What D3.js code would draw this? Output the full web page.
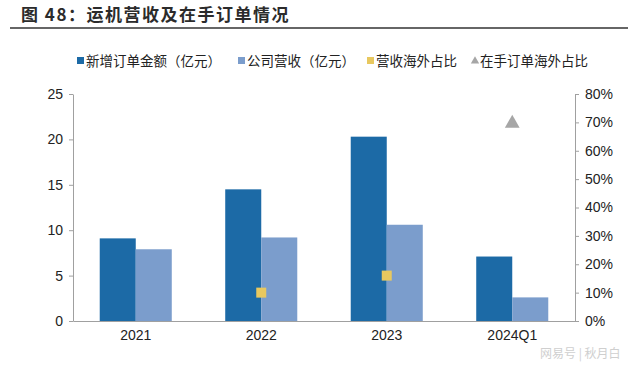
<!DOCTYPE html>
<html>
<head>
<meta charset="utf-8">
<script src="https://cdn.jsdelivr.net/npm/d3@7"></script>
<style>
  body { margin: 0; background: #fff; }
  svg text { font-family: "Liberation Sans", Arial, sans-serif; }
  .cjk { font-family: "Noto Sans CJK SC", sans-serif; }
</style>
</head>
<body>
<div id="viz"></div>
<script>
const width = 640;
const height = 372;
const margin = {top: 94, right: 65, bottom: 51, left: 73};

const categories = ['2021', '2022', '2023', '2024Q1'];
const newOrders = [9.1, 14.5, 20.3, 7.1];
const revenue = [7.9, 9.2, 10.6, 2.6];
const revenueOverseas = [null, 0.10, 0.16, null];
const backlogOverseas = [null, null, null, 0.70];
const leftTicks = [0, 5, 10, 15, 20, 25];
const rightTicks = [0, 0.1, 0.2, 0.3, 0.4, 0.5, 0.6, 0.7, 0.8];
const legendNames = ['新增订单金额（亿元）', '公司营收（亿元）', '营收海外占比', '在手订单海外占比'];

const darkBlue = '#1c6aa6';
const lightBlue = '#7b9dcc';
const yellow = '#e8c85f';
const grey = '#a6a6a6';
const axisColor = '#a0a0a0';

const svg = d3.select('#viz')
  .append('svg')
    .attr('width', width)
    .attr('height', height)

// title
svg.append('text')
  .attr('class', 'cjk')
  .attr('x', 21)
  .attr('y', 21)
  .attr('font-size', 17)
  .attr('font-weight', 'bold')
  .attr('letter-spacing', 1.5)
  .attr('fill', '#2b2b2b')
  .text('图 48：运机营收及在手订单情况')

svg.append('line')
  .attr('x1', 10).attr('x2', 628)
  .attr('y1', 28).attr('y2', 28)
  .attr('stroke', '#333')
  .attr('stroke-width', 1.5)

let xScale = d3.scaleBand()
  .domain(categories)
  .range([margin.left, width - margin.right])
  .paddingInner(0.426)
  .paddingOuter(0.213)

let inner = d3.scaleBand()
  .domain(['orders', 'revenue'])
  .range([0, xScale.bandwidth()])

let yLeft = d3.scaleLinear()
  .domain([0, 25])
  .range([height - margin.bottom, margin.top])

let yRight = d3.scaleLinear()
  .domain([0, 0.8])
  .range([height - margin.bottom, margin.top])

// left axis
let leftAxis = svg.append('g')
  .attr('transform', `translate(${margin.left}, 0)`)
  .call(d3.axisLeft(yLeft).tickValues(leftTicks).tickSize(4).tickPadding(6).tickSizeOuter(0))
leftAxis.select('.domain').attr('stroke', axisColor)
leftAxis.selectAll('.tick line').attr('stroke', axisColor)
leftAxis.selectAll('.tick text')
  .attr('font-size', 14)
  .attr('fill', '#222')
  .style('font-family', '"Liberation Sans", Arial, sans-serif')

// right axis
let rightAxis = svg.append('g')
  .attr('transform', `translate(${width - margin.right}, 0)`)
  .call(d3.axisRight(yRight).tickValues(rightTicks).tickFormat(d3.format('.0%')).tickSize(4).tickPadding(6).tickSizeOuter(0))
rightAxis.select('.domain').attr('stroke', axisColor)
rightAxis.selectAll('.tick line').attr('stroke', axisColor)
rightAxis.selectAll('.tick text')
  .attr('font-size', 14)
  .attr('fill', '#222')
  .style('font-family', '"Liberation Sans", Arial, sans-serif')

// bars
let groups = svg.append('g')
  .selectAll('g')
  .data(categories)
  .join('g')
  .attr('transform', d => `translate(${xScale(d)}, 0)`)

groups.append('rect')
  .attr('x', inner('orders'))
  .attr('y', (d, i) => yLeft(newOrders[i]))
  .attr('width', inner.bandwidth())
  .attr('height', (d, i) => yLeft(0) - yLeft(newOrders[i]))
  .attr('fill', darkBlue)

groups.append('rect')
  .attr('x', inner('revenue'))
  .attr('y', (d, i) => yLeft(revenue[i]))
  .attr('width', inner.bandwidth())
  .attr('height', (d, i) => yLeft(0) - yLeft(revenue[i]))
  .attr('fill', lightBlue)

// x axis
let bottomAxis = svg.append('g')
  .attr('transform', `translate(0, ${height - margin.bottom})`)
  .call(d3.axisBottom(xScale).tickSize(0).tickPadding(9))
bottomAxis.select('.domain').attr('stroke', axisColor)
bottomAxis.selectAll('.tick text')
  .attr('font-size', 14)
  .attr('fill', '#222')
  .style('font-family', '"Liberation Sans", Arial, sans-serif')

// overseas share markers
let center = d => xScale(d) + xScale.bandwidth() / 2

svg.append('g')
  .selectAll('rect')
  .data(categories.filter((d, i) => revenueOverseas[i] != null))
  .join('rect')
  .attr('x', d => center(d) - 5)
  .attr('y', d => yRight(revenueOverseas[categories.indexOf(d)]) - 5)
  .attr('width', 10)
  .attr('height', 10)
  .attr('fill', yellow)

svg.append('g')
  .selectAll('path')
  .data(categories.filter((d, i) => backlogOverseas[i] != null))
  .join('path')
  .attr('d', d3.symbol(d3.symbolTriangle, 95))
  .attr('transform', d => `translate(${center(d)}, ${yRight(backlogOverseas[categories.indexOf(d)]) + 1})`)
  .attr('fill', grey)

// legend
const legendX = [77, 238, 367, 471];
let legend = svg.append('g')
  .selectAll('g')
  .data(legendNames)
  .join('g')
  .attr('transform', (d, i) => `translate(${legendX[i]}, 61)`)

legend.each(function (d, i) {
  let g = d3.select(this)
  if (i < 3) {
    g.append('rect')
      .attr('x', 0).attr('y', -4)
      .attr('width', 7).attr('height', 7)
      .attr('fill', [darkBlue, lightBlue, yellow][i])
  } else {
    g.append('path')
      .attr('d', d3.symbol(d3.symbolTriangle, 30))
      .attr('transform', 'translate(4, 0)')
      .attr('fill', grey)
  }
  g.append('text')
    .attr('class', 'cjk')
    .attr('x', 9)
    .attr('y', 5)
    .attr('font-size', 13.5)
    .attr('fill', '#222')
    .text(d)
})

// watermark
svg.append('text')
  .attr('class', 'cjk')
  .attr('x', 540)
  .attr('y', 358)
  .attr('font-size', 12)
  .attr('fill', '#cfcfcf')
  .text('网易号 | 秋月白')
</script>
</body>
</html>
